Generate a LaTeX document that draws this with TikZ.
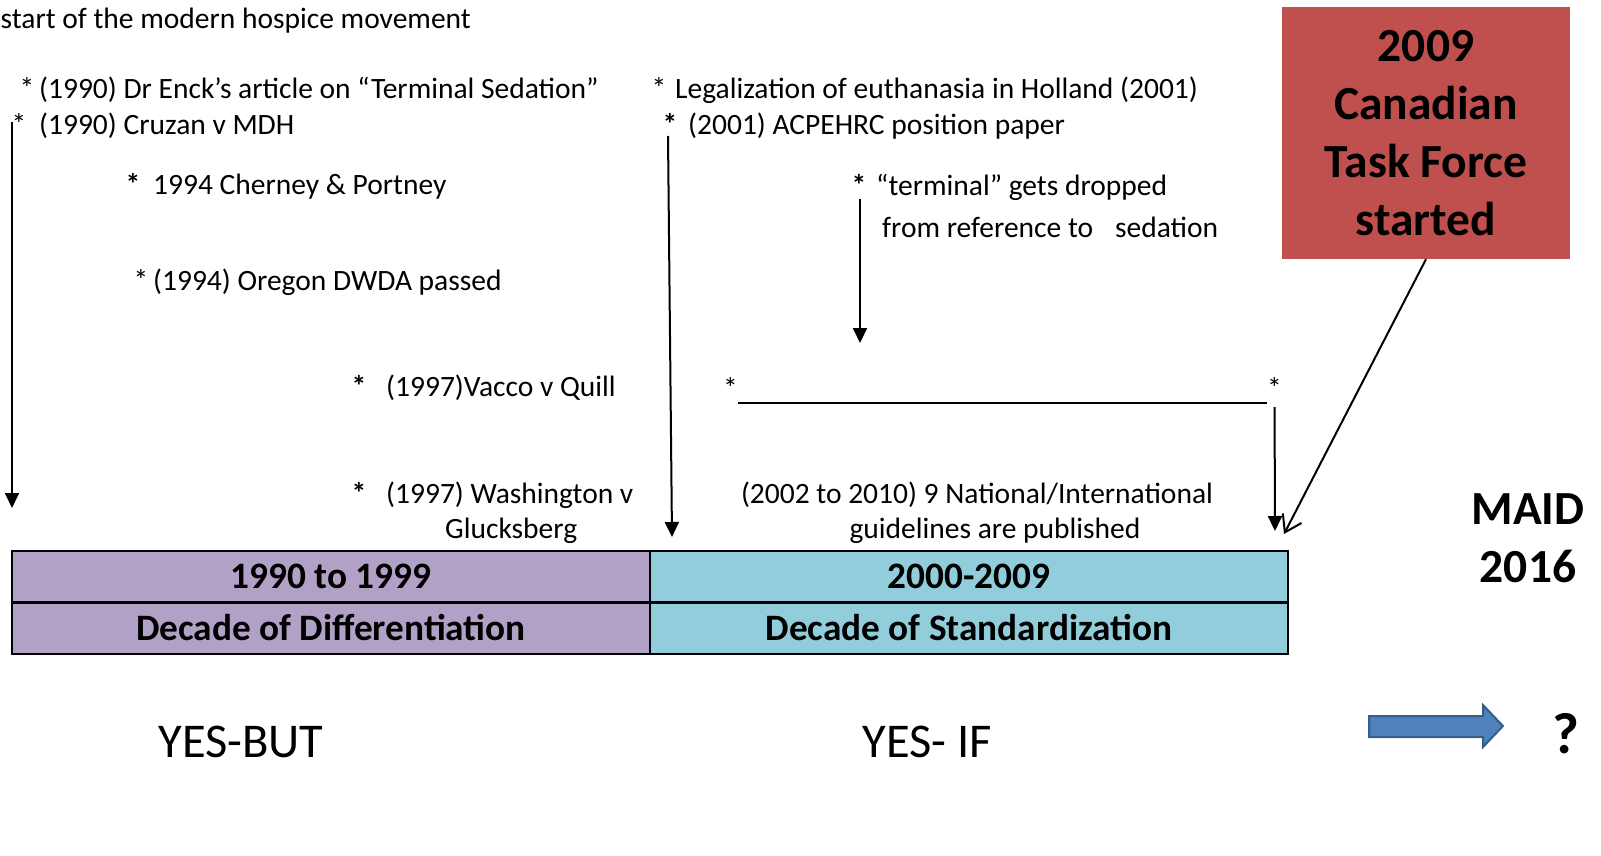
\documentclass[tikz,border=0pt]{standalone}
\usepackage{fontspec}
\setmainfont{Carlito}
\usetikzlibrary{positioning, arrows.meta}

\definecolor{lavender}{HTML}{B2A1C7}
\definecolor{aqua}{HTML}{92CDDC}
\definecolor{brick}{HTML}{C0504D}
\definecolor{arrowblue}{HTML}{4F81BD}
\definecolor{arrowedge}{HTML}{385D8A}

% asterisk hanging in front of an entry
\newcommand{\pstar}[1]{\llap{*\hspace{#1pt}}}
\newcommand{\bstar}[1]{\llap{\textbf{*}\hspace{#1pt}}}

\begin{document}
\begin{tikzpicture}[x=1pt, y=-1pt,
    note/.style={anchor=base west, inner sep=0pt, font=\fontsize{29.5}{35}\selectfont},
    decade/.style={draw, line width=2.5pt, outer sep=0pt, inner sep=0pt,
        minimum width=638pt, minimum height=51.5pt, font=\fontsize{37.3}{40}\selectfont\bfseries},
    arr/.style={line width=2pt, -{Triangle[length=15pt, width=14pt]}},
    big/.style={inner sep=0pt, anchor=base, font=\fontsize{48.5}{57}\selectfont}]
    \useasboundingbox (0,0) rectangle (1601,856);
    \clip (0,0) rectangle (1601,856);

    % 1990s entries
    \node[note] (hospice) at (0.5,29) {start of the modern hospice movement};
    \node[note] (enck) at (39,99) {\pstar{5}(1990) Dr Enck's article on “Terminal Sedation”};
    \node[note] (cruzan) at (39,135) {\pstar{13}(1990) Cruzan v MDH};
    \node[note] (cherney) at (153,194) {\bstar{13}1994 Cherney \& Portney};
    \node[note] (oregon) at (153,290) {\pstar{5}(1994) Oregon DWDA passed};
    \node[note] (vacco) at (386,396) {\bstar{20}(1997)Vacco v Quill};
    \node[note] (wash) at (386,503) {\bstar{20}(1997) Washington v};
    \node[note] (gluck) at (445,538) {Glucksberg};

    % 2000s entries
    \node[note] (holland) at (675,99) {\pstar{9}Legalization of euthanasia in Holland (2001)};
    \node[note] (acp) at (688,135) {\bstar{11}(2001) ACPEHRC position paper};
    \node[note] (term) at (876,195) {\bstar{10}“terminal” gets dropped};
    \node[note] (fromref) at (882,237) {from reference to\hspace{22pt}sedation};
    \node[note] (ls) at (723,398) {*};
    \node[note] (rs) at (1267,398) {*};
    \node[note, anchor=base, align=center] (guide) at (995,538)
        {(2002 to 2010) 9 National/International\hspace*{36pt}\\guidelines are published};

    % the two decades
    \node[decade, fill=lavender] (d90) at (331,576.5) {1990 to 1999};
    \node[decade, fill=lavender, below=0pt of d90] (d90name) {Decade of Differentiation};
    \node[decade, fill=aqua, right=0pt of d90] (d00) {2000-2009};
    \node[decade, fill=aqua, below=0pt of d00] (d00name) {Decade of Standardization};

    % right side
    \node[fill=brick, minimum width=288pt, minimum height=252pt, inner sep=0pt, align=center,
        font=\fontsize{47.5}{58}\selectfont\bfseries] (tf) at (1426,133) {2009\\Canadian\\Task Force\\started};
    \node[inner sep=0pt, align=center, font=\fontsize{47.5}{58}\selectfont\bfseries] (maid) at (1528,538) {MAID\\2016};
    \node[big] (yesbut) at (241,757) {YES-BUT};
    \node[big] (yesif) at (927,757) {YES- IF};
    \node[inner sep=0pt, anchor=base, font=\fontsize{58}{60}\selectfont\bfseries] (quest) at (1566,753) {?};

    % arrows down to the timeline
    \coordinate (cruzTop) at (12,122);
    \coordinate (cruzTip) at (12,508);
    \coordinate (acpTop) at (668,136);
    \coordinate (acpTip) at (672,537);
    \coordinate (termTop) at (860,199);
    \coordinate (termTip) at (860,343);
    \coordinate (guideTip) at (1275,531);
    \coordinate (tfTip) at (1284,534);
    \draw[arr] (cruzTop) -- (cruzTip);
    \draw[arr] (acpTop) -- (acpTip);
    \draw[arr] (termTop) -- (termTip);
    \draw[line width=1.3pt] ([yshift=-5pt]ls.base east) -- ([yshift=-5pt]rs.base west);
    \draw[arr] ([yshift=-9pt]rs.base) -- (guideTip);
    \draw[line width=2pt, -{Straight Barb[length=16pt, width=21pt]}] (tf.south) -- (tfTip);

    % block arrow towards the question
    \draw[line width=2pt, draw=arrowedge, fill=arrowblue] (1369,716) -- (1483,716) -- (1483,705)
        -- (1503,726) -- (1483,747) -- (1483,737) -- (1369,737) -- cycle;
\end{tikzpicture}
\end{document}
